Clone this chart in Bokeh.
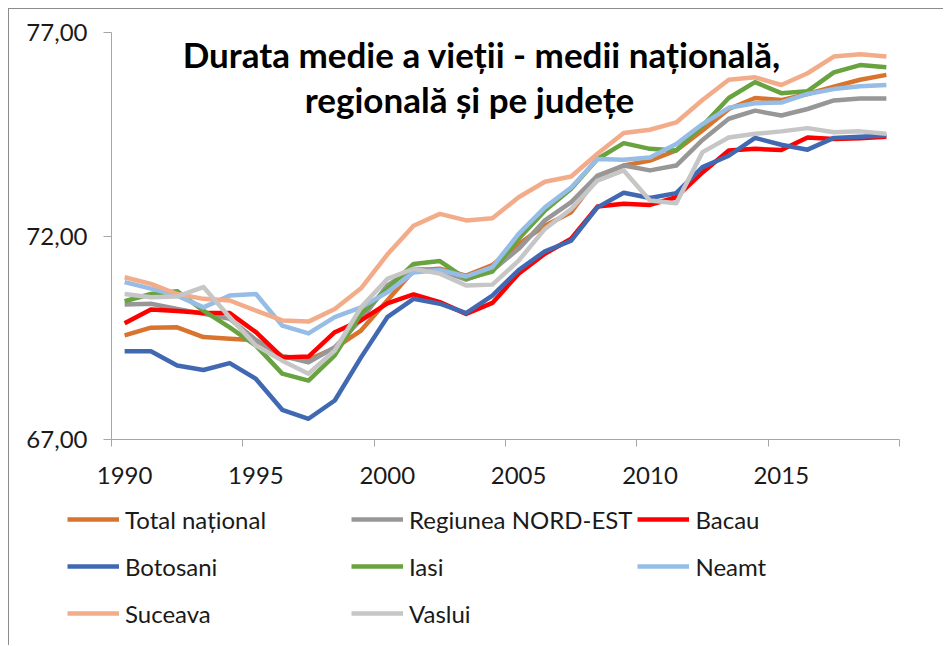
from bokeh.plotting import figure
from bokeh.models import Range1d, FixedTicker, Legend, LegendItem, Label
from bokeh.embed import file_html
from bokeh.resources import INLINE

years = list(range(1990, 2020))

total_national = [69.56, 69.75, 69.76, 69.52, 69.48, 69.44, 69.05, 68.96, 69.25, 69.68,
                  70.42, 71.16, 71.20, 71.03, 71.29, 71.81, 72.26, 72.59, 73.45, 73.74,
                  73.86, 74.11, 74.60, 75.13, 75.40, 75.35, 75.50, 75.68, 75.85, 75.97]
regiunea = [70.32, 70.34, 70.21, 70.09, 69.97, 69.45, 69.05, 68.90, 69.27, 69.95,
            70.79, 71.20, 71.16, 70.93, 71.16, 71.69, 72.39, 72.84, 73.49, 73.74,
            73.62, 73.74, 74.37, 74.89, 75.09, 74.97, 75.13, 75.34, 75.39, 75.39]
bacau = [69.86, 70.20, 70.16, 70.11, 70.11, 69.64, 69.02, 69.04, 69.64, 69.93,
         70.35, 70.57, 70.38, 70.09, 70.36, 71.08, 71.57, 71.94, 72.73, 72.80,
         72.77, 72.96, 73.57, 74.11, 74.15, 74.12, 74.43, 74.39, 74.41, 74.45]
botosani = [69.17, 69.17, 68.82, 68.71, 68.88, 68.49, 67.73, 67.51, 67.96, 69.02,
            70.01, 70.46, 70.34, 70.11, 70.54, 71.17, 71.63, 71.89, 72.71, 73.07,
            72.94, 73.06, 73.70, 73.98, 74.42, 74.25, 74.13, 74.42, 74.45, 74.48]
iasi = [70.40, 70.58, 70.65, 70.17, 69.76, 69.31, 68.62, 68.45, 69.07, 70.09,
        70.71, 71.32, 71.39, 70.95, 71.13, 71.94, 72.63, 73.17, 73.90, 74.29,
        74.15, 74.11, 74.72, 75.40, 75.79, 75.52, 75.57, 76.03, 76.21, 76.16]
neamt = [70.87, 70.71, 70.54, 70.25, 70.54, 70.58, 69.80, 69.61, 70.01, 70.25,
         70.62, 71.11, 71.17, 71.01, 71.24, 72.06, 72.71, 73.20, 73.90, 73.88,
         73.94, 74.27, 74.76, 75.16, 75.27, 75.29, 75.50, 75.62, 75.69, 75.72]
suceava = [70.99, 70.83, 70.58, 70.46, 70.42, 70.17, 69.93, 69.90, 70.21, 70.72,
           71.55, 72.26, 72.55, 72.39, 72.44, 72.96, 73.34, 73.47, 74.03, 74.54,
           74.62, 74.80, 75.35, 75.85, 75.91, 75.72, 76.01, 76.42, 76.48, 76.42]
vaslui = [70.58, 70.50, 70.52, 70.75, 70.01, 69.31, 68.94, 68.62, 69.19, 70.25,
          70.95, 71.20, 71.08, 70.79, 70.81, 71.40, 72.18, 72.67, 73.37, 73.62,
          72.88, 72.81, 74.07, 74.43, 74.52, 74.58, 74.66, 74.56, 74.58, 74.52]

series_names = ["Total național", "Regiunea NORD-EST", "Bacau", "Botosani",
                "Iasi", "Neamt", "Suceava", "Vaslui"]
series_values = [total_national, regiunea, bacau, botosani, iasi, neamt, suceava, vaslui]
series_colors = ["#D9742F", "#979797", "#FF0000", "#4169B2",
                 "#68A33F", "#96BDE5", "#F3AC8A", "#C6C6C6"]

x_label_years = [1990, 1995, 2000, 2005, 2010, 2015]
y_ticks = [67, 72, 77]
y_tick_labels = ["67,00", "72,00", "77,00"]
title_lines = ["Durata medie a vieții - medii națională,", "regională și pe județe"]

FONT = "Lato"
TEXT = "#1a1a1a"
AXIS = "#A6A6A6"

# axis extents (category axis: 1990..2019, half a category of padding each side)
X_AXIS_START, X_AXIS_END = 1989.5, 2019.5
Y_AXIS_START, Y_AXIS_END = 67, 77

# the frame fills the whole canvas, axes are pinned at the chart area's corner
p = figure(width=935, height=637, output_backend="svg", toolbar_location=None,
           x_range=Range1d(1985.617, 2021.213), y_range=Range1d(61.908, 77.578),
           min_border_left=0, min_border_right=0, min_border_top=0,
           min_border_bottom=0)
p.styles = {"margin-left": "8px", "margin-top": "8px",
            "border-top": "1px solid #8c8c8c", "border-left": "1px solid #8c8c8c"}
p.outline_line_color = None
p.xgrid.grid_line_color = None
p.ygrid.grid_line_color = None
p.background_fill_color = "white"
p.border_fill_color = "white"

# x axis: labels at category centres, tick marks at category boundaries
minor = [y - 0.5 for y in x_label_years] + [X_AXIS_END]
p.xaxis.fixed_location = Y_AXIS_START
p.xaxis.bounds = (X_AXIS_START, X_AXIS_END)
p.xaxis.ticker = FixedTicker(ticks=x_label_years, minor_ticks=minor)
p.xaxis.major_tick_line_color = None
p.xaxis.major_tick_out = 0
p.xaxis.major_tick_in = 0
p.xaxis.minor_tick_line_color = AXIS
p.xaxis.minor_tick_out = 7
p.xaxis.minor_tick_in = 0
p.xaxis.minor_tick_line_width = 1
p.xaxis.axis_line_color = AXIS
p.xaxis.major_label_standoff = 20
p.xaxis.major_label_text_font = FONT
p.xaxis.major_label_text_font_size = "24px"
p.xaxis.major_label_text_color = TEXT

p.yaxis.fixed_location = X_AXIS_START
p.yaxis.bounds = (Y_AXIS_START, Y_AXIS_END)
p.yaxis.ticker = FixedTicker(ticks=y_ticks, minor_ticks=[])
p.yaxis.major_label_overrides = {t: s for t, s in zip(y_ticks, y_tick_labels)}
p.yaxis.axis_line_color = AXIS
p.yaxis.major_tick_line_color = AXIS
p.yaxis.major_tick_out = 8
p.yaxis.major_tick_in = 0
p.yaxis.minor_tick_line_color = None
p.yaxis.major_label_standoff = 16
p.yaxis.major_label_text_font = FONT
p.yaxis.major_label_text_font_size = "24px"
p.yaxis.major_label_text_color = TEXT

items = []
for name, vals, col in zip(series_names, series_values, series_colors):
    r = p.line(years, vals, line_color=col, line_width=4.5, line_join="round")
    items.append(LegendItem(label=name, renderers=[r]))

legend = Legend(items=items, ncols=3, orientation="horizontal", location=(58, 12),
                glyph_width=52, glyph_height=42, label_height=42,
                label_width=221, label_standoff=6, spacing=5,
                padding=0, margin=0, border_line_color=None,
                background_fill_alpha=0,
                label_text_font=FONT, label_text_font_size="24px",
                label_text_color=TEXT)
p.add_layout(legend, "center")

title_x = [2003.60, 2003.13]
title_y = [76.48, 75.38]
for line, tx, ty in zip(title_lines, title_x, title_y):
    p.add_layout(Label(x=tx, y=ty, text=line, text_align="center",
                       text_baseline="alphabetic", text_font=FONT,
                       text_font_style="bold", text_font_size="35px",
                       text_color="#000000"))

open("out.html", "w").write(file_html(p, INLINE))
